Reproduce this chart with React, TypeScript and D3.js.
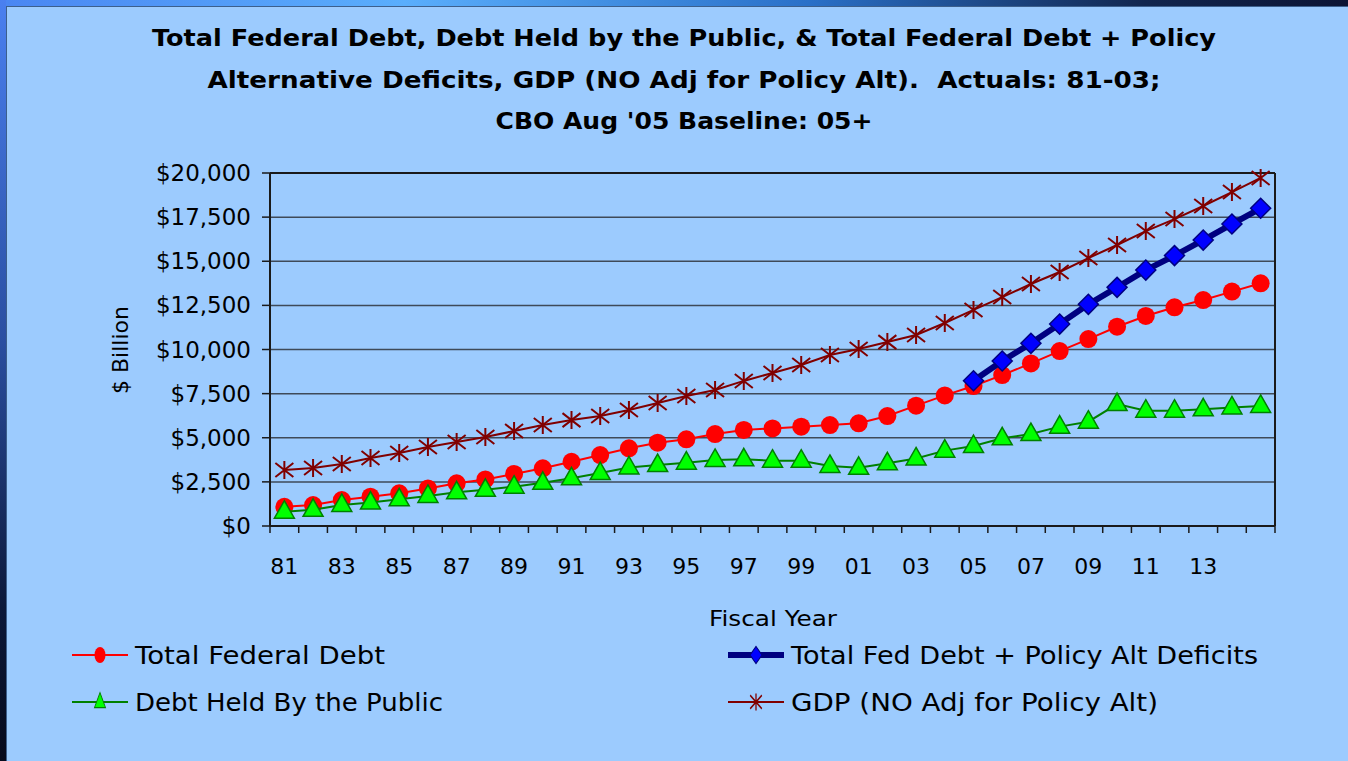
import React from "react";
import * as d3 from "d3";

const years = ["81","82","83","84","85","86","87","88","89","90","91","92","93","94","95","96","97","98","99","00","01","02","03","04","05","06","07","08","09","10","11","12","13","14","15"];
const xTickLabels = ["81","83","85","87","89","91","93","95","97","99","01","03","05","07","09","11","13"];
const yTicks = [0, 2500, 5000, 7500, 10000, 12500, 15000, 17500, 20000];

const totalFederalDebt = [1090,1190,1470,1660,1850,2130,2420,2640,2950,3270,3640,4020,4400,4720,4910,5210,5440,5530,5630,5720,5820,6230,6820,7400,7930,8550,9210,9910,10590,11290,11900,12390,12800,13280,13750];
const debtHeldByPublic = [810,915,1190,1330,1510,1700,1910,2050,2230,2450,2700,3000,3320,3450,3590,3740,3780,3700,3700,3400,3300,3550,3830,4270,4530,4970,5210,5630,5910,6910,6530,6530,6610,6720,6800];
const policyAltYears = ["05","06","07","08","09","10","11","12","13","14","15"];
const policyAltDebt = [8230,9350,10350,11440,12560,13520,14500,15320,16200,17110,18000];
const gdp = [3170,3290,3510,3850,4140,4480,4760,5040,5380,5720,6000,6230,6570,6970,7370,7710,8220,8670,9120,9690,10030,10420,10820,11500,12240,12970,13710,14390,15180,15920,16710,17390,18130,18920,19720];

const titleLines = [
  "Total Federal Debt, Debt Held by the Public, & Total Federal Debt + Policy",
  "Alternative Deficits, GDP (NO Adj for Policy Alt).  Actuals: 81-03;",
  "CBO Aug '05 Baseline: 05+",
];
const titleWidths = [1064, 953, 377];

const W = 1348, H = 761;
const plot = { left: 270, right: 1275, top: 173, bottom: 526 };
const FONT = "'Comic Sans MS', 'DejaVu Sans', sans-serif";

const RED = "#FF0000", GREEN_LINE = "#008000", GREEN_FILL = "#00FF00", NAVY = "#000080", BLUE = "#0000FF", MAROON = "#800000";

const starPath = "M0,-9L0,9M-9,-7L9,7M-9,7L9,-7";
const triPath = "M0,-11L10,6.5L-10,6.5Z";
const diamondPath = "M0,-10L10,0L0,10L-10,0Z";

export default function App() {
  const x = d3.scaleBand<string>().domain(years).range([plot.left, plot.right]).padding(0);
  const y = d3.scaleLinear().domain([0, 20000]).range([plot.bottom, plot.top]);
  const cx = (yr: string) => (x(yr) as number) + x.bandwidth() / 2;
  const line = d3.line<[string, number]>().x(d => cx(d[0])).y(d => y(d[1]));

  const redPts = years.map((yr, i) => [yr, totalFederalDebt[i]] as [string, number]);
  const greenPts = years.map((yr, i) => [yr, debtHeldByPublic[i]] as [string, number]);
  const bluePts = policyAltYears.map((yr, i) => [yr, policyAltDebt[i]] as [string, number]);
  const gdpPts = years.map((yr, i) => [yr, gdp[i]] as [string, number]);

  const boundaries = years.map(yr => x(yr) as number).concat([plot.right]);

  const legend = [
    { lx: 72, ly: 655, text: "Total Federal Debt", tw: 250, kind: "red" },
    { lx: 728, ly: 655, text: "Total Fed Debt + Policy Alt Deficits", tw: 467, kind: "blue" },
    { lx: 72, ly: 702, text: "Debt Held By the Public", tw: 308, kind: "green" },
    { lx: 728, ly: 702, text: "GDP (NO Adj for Policy Alt)", tw: 367, kind: "gdp" },
  ];

  return (
    <svg width={W} height={H} style={{ position: "absolute", left: 0, top: 0, display: "block" }} fontFamily={FONT}>
      <defs>
        <linearGradient id="topg" x1="0" x2="1" y1="0" y2="0">
          <stop offset="0" stopColor="#4a86f2" />
          <stop offset="0.3" stopColor="#5aaefc" />
          <stop offset="0.6" stopColor="#2a70c8" />
          <stop offset="0.85" stopColor="#12264e" />
          <stop offset="1" stopColor="#0c1434" />
        </linearGradient>
        <linearGradient id="leftg" x1="0" x2="0" y1="0" y2="1">
          <stop offset="0" stopColor="#4a80f0" />
          <stop offset="0.45" stopColor="#2a4ea0" />
          <stop offset="0.8" stopColor="#0c1838" />
          <stop offset="1" stopColor="#060a1c" />
        </linearGradient>
      </defs>
      <rect x={0} y={0} width={W} height={H} fill="#9CCBFE" />
      <rect x={0} y={0} width={W} height={6} fill="url(#topg)" />
      <rect x={0} y={0} width={6} height={H} fill="url(#leftg)" />
      <line x1={6} x2={W} y1={6.5} y2={6.5} stroke="#3c5f8c" strokeWidth={1} />
      <line x1={6.5} x2={6.5} y1={6} y2={H} stroke="#3c5f8c" strokeWidth={1} />

      {titleLines.map((t, i) => (
        <text key={i} x={684} y={46 + i * 41.5} textAnchor="middle" fontSize={23} fontWeight="bold" fill="#000"
          textLength={titleWidths[i]} lengthAdjust="spacingAndGlyphs" style={{ whiteSpace: "pre" }}>{t}</text>
      ))}

      {/* gridlines */}
      {yTicks.filter(v => v > 0).map(v => (
        <line key={v} x1={plot.left} x2={plot.right} y1={y(v)} y2={y(v)} stroke={v === 20000 ? "#1a1a1a" : "#3e4a58"} strokeWidth={v === 20000 ? 2 : 1.5} />
      ))}
      {/* axes */}
      <line x1={plot.right} x2={plot.right} y1={plot.top} y2={plot.bottom} stroke="#1a1a1a" strokeWidth={2} />
      <line x1={plot.left} x2={plot.left} y1={plot.top} y2={plot.bottom} stroke="#1a1a1a" strokeWidth={2} />
      <line x1={plot.left} x2={plot.right} y1={plot.bottom} y2={plot.bottom} stroke="#1a1a1a" strokeWidth={2} />
      {yTicks.map(v => (
        <g key={v}>
          <line x1={plot.left - 8} x2={plot.left} y1={y(v)} y2={y(v)} stroke="#1a1a1a" strokeWidth={1.5} />
          <text x={251} y={y(v) + 8} textAnchor="end" fontSize={23} fill="#000">{d3.format("$,")(v)}</text>
        </g>
      ))}
      {boundaries.map((bx, i) => (
        <line key={i} x1={bx} x2={bx} y1={plot.bottom} y2={plot.bottom + 7} stroke="#1a1a1a" strokeWidth={1.5} />
      ))}
      {xTickLabels.map(l => (
        <text key={l} x={cx(l)} y={574} textAnchor="middle" fontSize={22} fill="#000">{l}</text>
      ))}
      <text transform="translate(128,350) rotate(-90)" textAnchor="middle" fontSize={22} fill="#000">$ Billion</text>
      <text x={773} y={626} textAnchor="middle" fontSize={21} fill="#000" textLength={128} lengthAdjust="spacingAndGlyphs">Fiscal Year</text>

      {/* GDP */}
      <path d={line(gdpPts) || ""} fill="none" stroke={MAROON} strokeWidth={2} />
      {gdpPts.map(d => (
        <path key={d[0]} d={starPath} transform={`translate(${cx(d[0])},${y(d[1])})`} stroke={MAROON} strokeWidth={2} fill="none" />
      ))}
      {/* Total federal debt */}
      <path d={line(redPts) || ""} fill="none" stroke={RED} strokeWidth={2} />
      {redPts.map(d => (
        <circle key={d[0]} cx={cx(d[0])} cy={y(d[1])} r={9} fill={RED} />
      ))}
      {/* Debt held by public */}
      <path d={line(greenPts) || ""} fill="none" stroke={GREEN_LINE} strokeWidth={2} />
      {greenPts.map(d => (
        <path key={d[0]} d={triPath} transform={`translate(${cx(d[0])},${y(d[1])})`} fill={GREEN_FILL} stroke={GREEN_LINE} strokeWidth={1.5} />
      ))}
      {/* Policy alt */}
      <path d={line(bluePts) || ""} fill="none" stroke={NAVY} strokeWidth={6} strokeLinejoin="round" />
      {bluePts.map(d => (
        <path key={d[0]} d={diamondPath} transform={`translate(${cx(d[0])},${y(d[1])})`} fill={BLUE} stroke={NAVY} strokeWidth={1.5} />
      ))}

      {/* legend */}
      {legend.map((e, i) => {
        const mx = e.lx + 28;
        const stroke = e.kind === "red" ? RED : e.kind === "green" ? GREEN_LINE : e.kind === "blue" ? NAVY : MAROON;
        const sw = e.kind === "blue" ? 6 : 2;
        let marker: React.ReactNode = null;
        if (e.kind === "red") marker = <ellipse cx={mx} cy={e.ly} rx={5.5} ry={8} fill={RED} />;
        if (e.kind === "green") marker = <path d={triPath} transform={`translate(${mx},${e.ly}) scale(0.55,0.85)`} fill={GREEN_FILL} stroke={GREEN_LINE} strokeWidth={1.5} />;
        if (e.kind === "blue") marker = <path d={diamondPath} transform={`translate(${mx},${e.ly}) scale(0.6,0.85)`} fill={BLUE} stroke={NAVY} strokeWidth={1.5} />;
        if (e.kind === "gdp") marker = <path d={starPath} transform={`translate(${mx},${e.ly}) scale(0.65,0.95)`} stroke={MAROON} strokeWidth={2} fill="none" />;
        return (
          <g key={i}>
            <line x1={e.lx} x2={e.lx + 56} y1={e.ly} y2={e.ly} stroke={stroke} strokeWidth={sw} />
            {marker}
            <text x={e.lx + 63} y={e.ly + 9} fontSize={24} fill="#000" textLength={e.tw} lengthAdjust="spacingAndGlyphs">{e.text}</text>
          </g>
        );
      })}
    </svg>
  );
}
